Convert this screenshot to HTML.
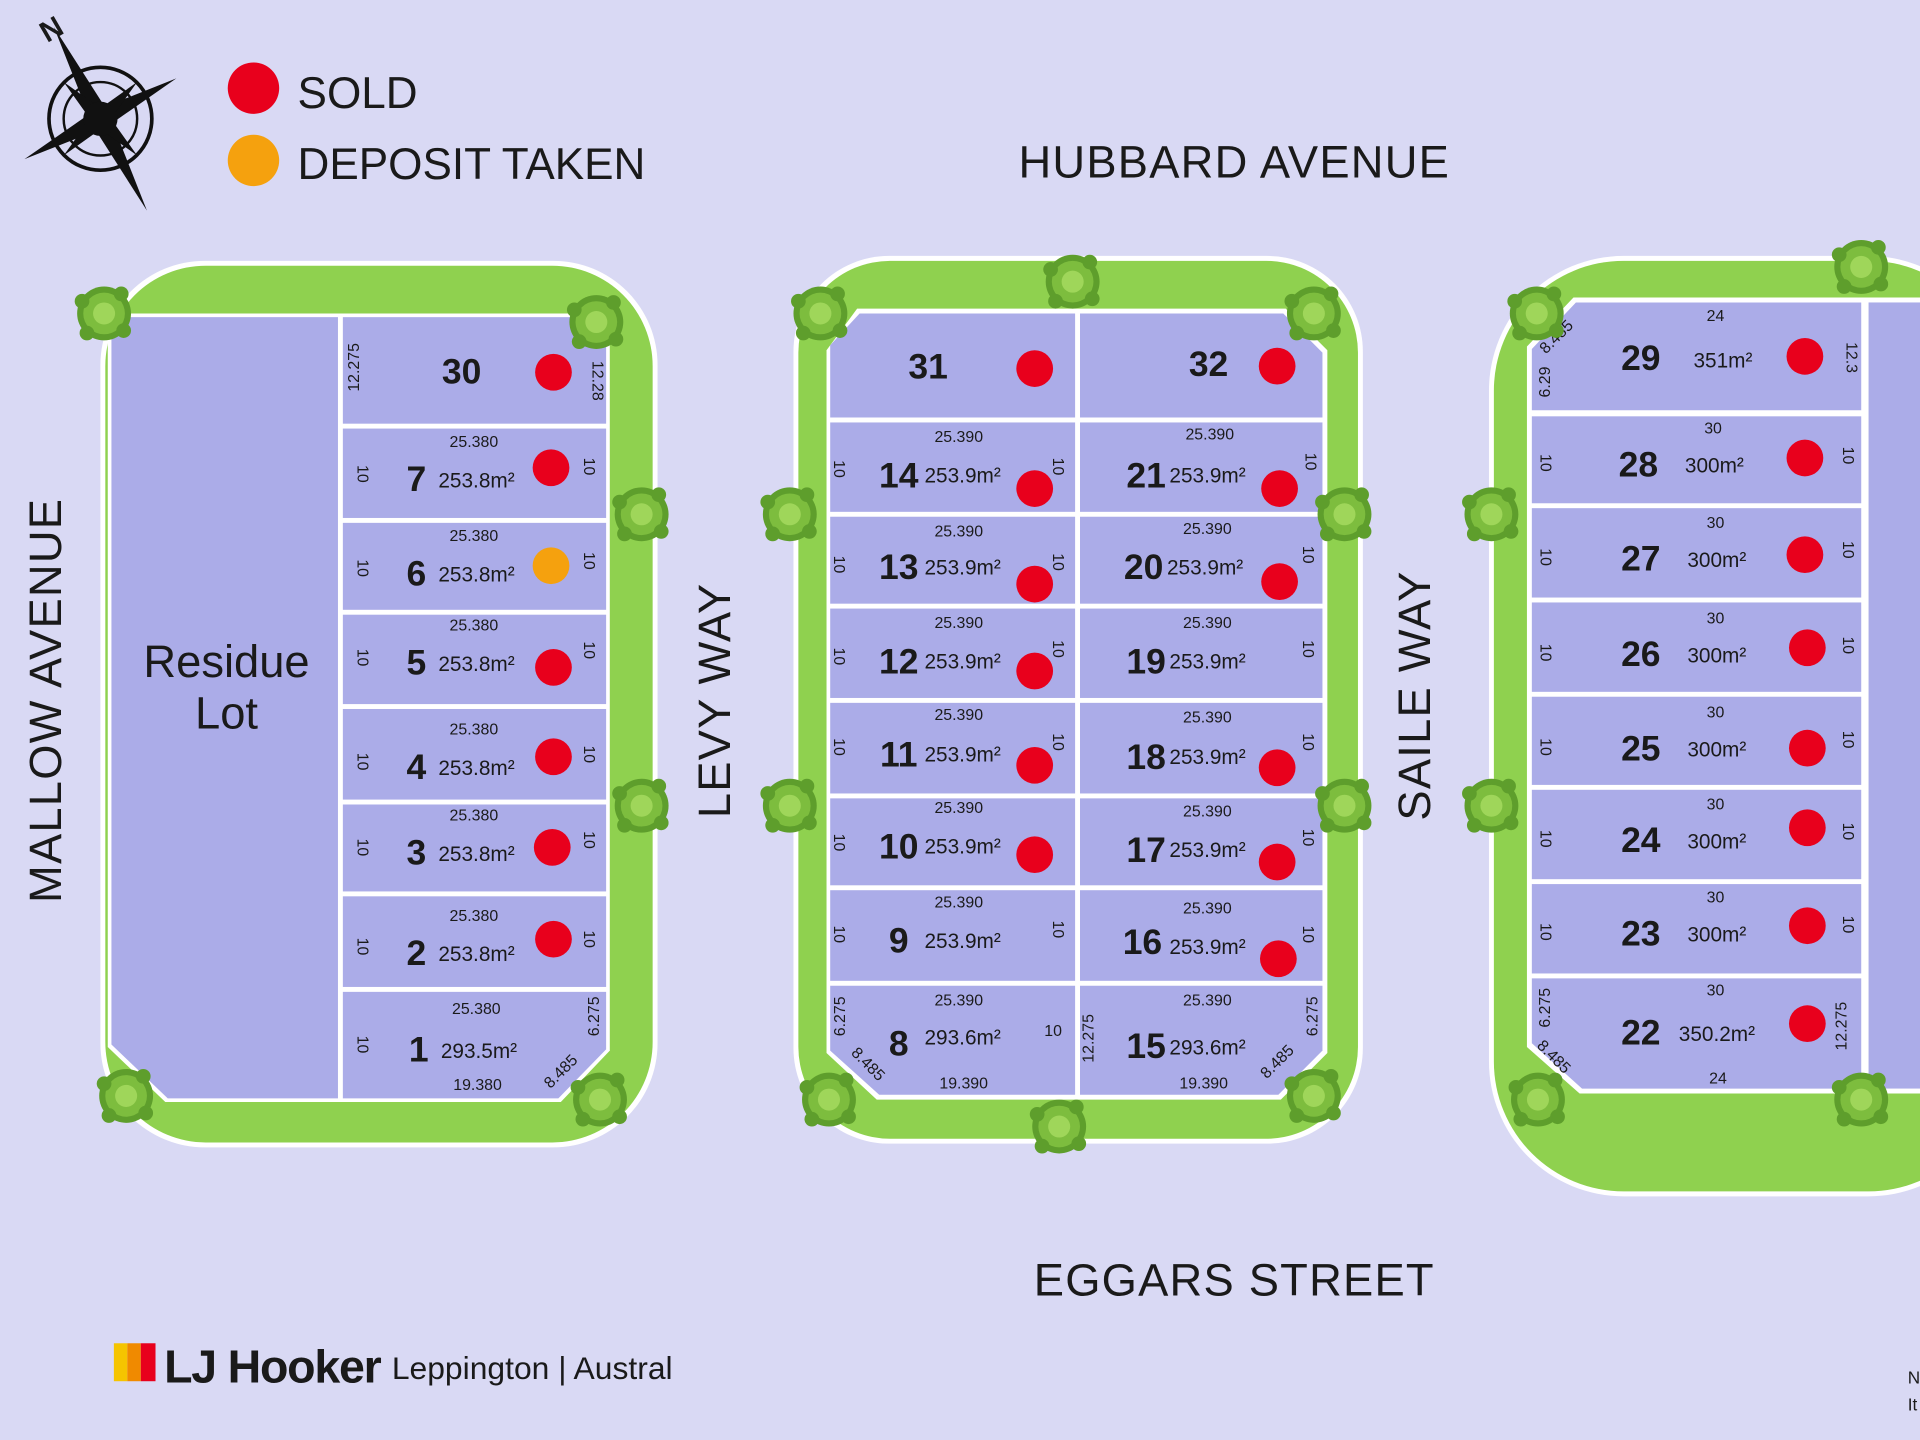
<!DOCTYPE html>
<html><head><meta charset="utf-8"><style>
html,body{margin:0;padding:0;background:#d9d9f4;}
svg{display:block}
text{font-family:"Liberation Sans",sans-serif;fill:#1a1a1a}
.d{font-size:13px;text-anchor:middle}
.n{font-size:29px;font-weight:bold;text-anchor:middle}
.a{font-size:17px}
.big{font-size:37px;text-anchor:middle;letter-spacing:1px}
</style></head><body>
<svg width="1920" height="1440" viewBox="0 0 1568 1176" xmlns="http://www.w3.org/2000/svg">
<defs>
<g id="tree"><circle r="22" fill="#5e9e2c"/><circle r="17" fill="#7dbd3e"/><circle r="9" fill="#9fd65a"/>
<circle cx="-18" cy="-10" r="6" fill="#5e9e2c"/><circle cx="16" cy="14" r="6" fill="#5e9e2c"/><circle cx="14" cy="-16" r="6" fill="#5e9e2c"/><circle cx="-14" cy="16" r="6" fill="#5e9e2c"/></g>
</defs>
<rect width="1568" height="1176" fill="#d9d9f4"/>

<!-- legend -->
<circle cx="207" cy="72" r="21" fill="#e8001c"/>
<text x="243" y="88" style="font-size:36px">SOLD</text>
<circle cx="207" cy="131" r="21" fill="#f5a10e"/>
<text x="243" y="146" style="font-size:36px">DEPOSIT TAKEN</text>
<!-- compass -->
<g transform="translate(82,97)">
<circle r="42" fill="none" stroke="#111" stroke-width="3"/>
<circle r="30" fill="none" stroke="#111" stroke-width="2"/>
<polygon points="-38,-75 6,-6 -6,6" fill="#111"/><polygon points="38,75 -6,6 6,-6" fill="#111"/>
<polygon points="-62,33 -6,-6 6,6" fill="#111"/><polygon points="62,-33 6,6 -6,-6" fill="#111"/>
<polygon points="-30,-30 5,-5 -5,5" fill="#111"/><polygon points="30,30 5,-5 -5,5" fill="#111"/>
<polygon points="30,-30 5,5 -5,-5" fill="#111"/><polygon points="-30,30 5,5 -5,-5" fill="#111"/>
<circle r="14" fill="#111"/>
</g>
<text x="42" y="32" transform="rotate(-30 42 24)" style="font-size:24px;font-weight:bold;text-anchor:middle">N</text>

<text x="1008" y="145" class="big">HUBBARD AVENUE</text>
<text x="1008" y="1058" class="big">EGGARS STREET</text>
<text transform="translate(50,572) rotate(-90)" class="big">MALLOW AVENUE</text>
<text transform="translate(596,572) rotate(-90)" class="big">LEVY WAY</text>
<text transform="translate(1168,568) rotate(-90)" class="big">SAILE WAY</text>

<!-- BLOCK 1 -->
<rect x="82" y="213" width="455" height="724" rx="85" fill="#fff"/>
<rect x="86" y="217" width="447" height="716" rx="82" fill="#8fd14f"/>
<polygon points="88,256 498,256 498,858 458,900 135,900 88,855" fill="#fff"/>
<polygon points="91,259 276,259 276,897 137,897 91,853" fill="#abace8"/>
<g fill="#abace8">
<rect x="280" y="259" width="215" height="87"/><rect x="280" y="350" width="215" height="73"/>
<rect x="280" y="427" width="215" height="71"/><rect x="280" y="502" width="215" height="73"/>
<rect x="280" y="579" width="215" height="74"/><rect x="280" y="657" width="215" height="71"/>
<rect x="280" y="732" width="215" height="74"/><polygon points="280,810 495,810 495,857 456,897 280,897"/>
</g>
<text x="185" y="553" style="font-size:37px;text-anchor:middle">Residue</text>
<text x="185" y="595" style="font-size:37px;text-anchor:middle">Lot</text>
<text x="377" y="313" class="n">30</text><circle cx="452" cy="304" r="15" fill="#e8001c"/>
<text transform="translate(293,300) rotate(-90)" class="d">12.275</text>
<text transform="translate(484,311) rotate(90)" class="d">12.28</text>
<g>
<text x="387" y="365" class="d">25.380</text><text x="340" y="401" class="n">7</text><text x="358" y="398" class="a">253.8m²</text><circle cx="450" cy="382" r="15" fill="#e8001c"/>
<text x="387" y="442" class="d">25.380</text><text x="340" y="478" class="n">6</text><text x="358" y="475" class="a">253.8m²</text><circle cx="450" cy="462" r="15" fill="#f5a10e"/>
<text x="387" y="515" class="d">25.380</text><text x="340" y="551" class="n">5</text><text x="358" y="548" class="a">253.8m²</text><circle cx="452" cy="545" r="15" fill="#e8001c"/>
<text x="387" y="600" class="d">25.380</text><text x="340" y="636" class="n">4</text><text x="358" y="633" class="a">253.8m²</text><circle cx="452" cy="618" r="15" fill="#e8001c"/>
<text x="387" y="670" class="d">25.380</text><text x="340" y="706" class="n">3</text><text x="358" y="703" class="a">253.8m²</text><circle cx="451" cy="692" r="15" fill="#e8001c"/>
<text x="387" y="752" class="d">25.380</text><text x="340" y="788" class="n">2</text><text x="358" y="785" class="a">253.8m²</text><circle cx="452" cy="767" r="15" fill="#e8001c"/>
<text x="389" y="828" class="d">25.380</text><text x="342" y="867" class="n">1</text><text x="360" y="864" class="a">293.5m²</text>
<text x="390" y="890" class="d">19.380</text>
<text transform="translate(461,878) rotate(-45)" class="d">8.485</text>
<text transform="translate(489,830) rotate(-90)" class="d">6.275</text>
</g>
<g class="d">
<text transform="translate(292,387) rotate(90)" class="d">10</text><text transform="translate(477,381) rotate(90)" class="d">10</text>
<text transform="translate(292,464) rotate(90)" class="d">10</text><text transform="translate(477,458) rotate(90)" class="d">10</text>
<text transform="translate(292,537) rotate(90)" class="d">10</text><text transform="translate(477,531) rotate(90)" class="d">10</text>
<text transform="translate(292,622) rotate(90)" class="d">10</text><text transform="translate(477,616) rotate(90)" class="d">10</text>
<text transform="translate(292,692) rotate(90)" class="d">10</text><text transform="translate(477,686) rotate(90)" class="d">10</text>
<text transform="translate(292,773) rotate(90)" class="d">10</text><text transform="translate(477,767) rotate(90)" class="d">10</text>
<text transform="translate(292,853) rotate(90)" class="d">10</text>
</g>

<!-- BLOCK 2 -->
<rect x="648" y="209" width="465" height="725" rx="78" fill="#fff"/>
<rect x="652" y="213" width="457" height="717" rx="75" fill="#8fd14f"/>
<polygon points="700,252 1050,252 1084,286 1084,860 1046,898 716,898 675,860 675,286" fill="#fff"/>
<g fill="#abace8">
<polygon points="702,256 878,256 878,341 678,341 678,282"/><polygon points="882,256 1048,256 1080,288 1080,341 882,341"/>
<rect x="678" y="345" width="200" height="73"/><rect x="882" y="345" width="198" height="73"/>
<rect x="678" y="422" width="200" height="71"/><rect x="882" y="422" width="198" height="71"/>
<rect x="678" y="497" width="200" height="73"/><rect x="882" y="497" width="198" height="73"/>
<rect x="678" y="574" width="200" height="74"/><rect x="882" y="574" width="198" height="74"/>
<rect x="678" y="652" width="200" height="71"/><rect x="882" y="652" width="198" height="71"/>
<rect x="678" y="727" width="200" height="74"/><rect x="882" y="727" width="198" height="74"/>
<polygon points="678,805 878,805 878,894 718,894 678,858"/><polygon points="882,805 1080,805 1080,858 1044,894 882,894"/>
</g>
<text x="758" y="309" class="n">31</text><circle cx="845" cy="301" r="15" fill="#e8001c"/>
<text x="987" y="307" class="n">32</text><circle cx="1043" cy="299" r="15" fill="#e8001c"/>
<g>
<text x="783" y="361" class="d">25.390</text><text x="734" y="398" class="n">14</text><text x="755" y="394" class="a">253.9m²</text><circle cx="845" cy="399" r="15" fill="#e8001c"/>
<text x="988" y="359" class="d">25.390</text><text x="936" y="398" class="n">21</text><text x="955" y="394" class="a">253.9m²</text><circle cx="1045" cy="399" r="15" fill="#e8001c"/>
<text x="783" y="438" class="d">25.390</text><text x="734" y="473" class="n">13</text><text x="755" y="469" class="a">253.9m²</text><circle cx="845" cy="477" r="15" fill="#e8001c"/>
<text x="986" y="436" class="d">25.390</text><text x="934" y="473" class="n">20</text><text x="953" y="469" class="a">253.9m²</text><circle cx="1045" cy="475" r="15" fill="#e8001c"/>
<text x="783" y="513" class="d">25.390</text><text x="734" y="550" class="n">12</text><text x="755" y="546" class="a">253.9m²</text><circle cx="845" cy="548" r="15" fill="#e8001c"/>
<text x="986" y="513" class="d">25.390</text><text x="936" y="550" class="n">19</text><text x="955" y="546" class="a">253.9m²</text>
<text x="783" y="588" class="d">25.390</text><text x="734" y="626" class="n">11</text><text x="755" y="622" class="a">253.9m²</text><circle cx="845" cy="625" r="15" fill="#e8001c"/>
<text x="986" y="590" class="d">25.390</text><text x="936" y="628" class="n">18</text><text x="955" y="624" class="a">253.9m²</text><circle cx="1043" cy="627" r="15" fill="#e8001c"/>
<text x="783" y="664" class="d">25.390</text><text x="734" y="701" class="n">10</text><text x="755" y="697" class="a">253.9m²</text><circle cx="845" cy="698" r="15" fill="#e8001c"/>
<text x="986" y="667" class="d">25.390</text><text x="936" y="704" class="n">17</text><text x="955" y="700" class="a">253.9m²</text><circle cx="1043" cy="704" r="15" fill="#e8001c"/>
<text x="783" y="741" class="d">25.390</text><text x="734" y="778" class="n">9</text><text x="755" y="774" class="a">253.9m²</text>
<text x="986" y="746" class="d">25.390</text><text x="933" y="779" class="n">16</text><text x="955" y="779" class="a">253.9m²</text><circle cx="1044" cy="783" r="15" fill="#e8001c"/>
<text x="783" y="821" class="d">25.390</text><text x="734" y="862" class="n">8</text><text x="755" y="853" class="a">293.6m²</text>
<text x="986" y="821" class="d">25.390</text><text x="936" y="864" class="n">15</text><text x="955" y="861" class="a">293.6m²</text>
<text x="787" y="889" class="d">19.390</text><text x="983" y="889" class="d">19.390</text>
<text transform="translate(706,872) rotate(45)" class="d">8.485</text>
<text transform="translate(1046,870) rotate(-45)" class="d">8.485</text>
<text transform="translate(690,830) rotate(-90)" class="d">6.275</text>
<text transform="translate(1076,830) rotate(-90)" class="d">6.275</text>
<text transform="translate(893,848) rotate(-90)" class="d">12.275</text>
<text transform="translate(860,846) rotate(0)" class="d">10</text>
</g>
<g>
<text transform="translate(681,383) rotate(90)" class="d">10</text><text transform="translate(860,381) rotate(90)" class="d">10</text><text transform="translate(1066,377) rotate(90)" class="d">10</text>
<text transform="translate(681,461) rotate(90)" class="d">10</text><text transform="translate(860,459) rotate(90)" class="d">10</text><text transform="translate(1064,453) rotate(90)" class="d">10</text>
<text transform="translate(681,536) rotate(90)" class="d">10</text><text transform="translate(860,530) rotate(90)" class="d">10</text><text transform="translate(1064,530) rotate(90)" class="d">10</text>
<text transform="translate(681,610) rotate(90)" class="d">10</text><text transform="translate(860,606) rotate(90)" class="d">10</text><text transform="translate(1064,606) rotate(90)" class="d">10</text>
<text transform="translate(681,688) rotate(90)" class="d">10</text><text transform="translate(1064,684) rotate(90)" class="d">10</text>
<text transform="translate(681,763) rotate(90)" class="d">10</text><text transform="translate(860,759) rotate(90)" class="d">10</text><text transform="translate(1064,763) rotate(90)" class="d">10</text>
</g>

<!-- BLOCK 3 -->
<rect x="1216" y="209" width="420" height="768" rx="110" fill="#fff"/>
<rect x="1220" y="213" width="412" height="760" rx="106" fill="#8fd14f"/>
<polygon points="1285,243 1568,243 1568,893 1290,893 1247,855 1247,283" fill="#fff"/>
<g fill="#abace8">
<polygon points="1287,247 1520,247 1520,335 1251,335 1251,285"/>
<rect x="1251" y="340" width="269" height="71"/><rect x="1251" y="415" width="269" height="73"/>
<rect x="1251" y="492" width="269" height="73"/><rect x="1251" y="569" width="269" height="72"/>
<rect x="1251" y="645" width="269" height="73"/><rect x="1251" y="722" width="269" height="73"/>
<polygon points="1251,799 1520,799 1520,889 1292,889 1251,852"/>
<rect x="1526" y="247" width="42" height="642"/>
</g>
<g>
<text x="1401" y="262" class="d">24</text><text x="1340" y="302" class="n">29</text><text x="1383" y="300" class="a">351m²</text><circle cx="1474" cy="291" r="15" fill="#e8001c"/>
<text x="1399" y="354" class="d">30</text><text x="1338" y="389" class="n">28</text><text x="1376" y="386" class="a">300m²</text><circle cx="1474" cy="374" r="15" fill="#e8001c"/>
<text x="1401" y="431" class="d">30</text><text x="1340" y="466" class="n">27</text><text x="1378" y="463" class="a">300m²</text><circle cx="1474" cy="453" r="15" fill="#e8001c"/>
<text x="1401" y="509" class="d">30</text><text x="1340" y="544" class="n">26</text><text x="1378" y="541" class="a">300m²</text><circle cx="1476" cy="529" r="15" fill="#e8001c"/>
<text x="1401" y="586" class="d">30</text><text x="1340" y="621" class="n">25</text><text x="1378" y="618" class="a">300m²</text><circle cx="1476" cy="611" r="15" fill="#e8001c"/>
<text x="1401" y="661" class="d">30</text><text x="1340" y="696" class="n">24</text><text x="1378" y="693" class="a">300m²</text><circle cx="1476" cy="676" r="15" fill="#e8001c"/>
<text x="1401" y="737" class="d">30</text><text x="1340" y="772" class="n">23</text><text x="1378" y="769" class="a">300m²</text><circle cx="1476" cy="756" r="15" fill="#e8001c"/>
<text x="1401" y="813" class="d">30</text><text x="1340" y="853" class="n">22</text><text x="1371" y="850" class="a">350.2m²</text><circle cx="1476" cy="836" r="15" fill="#e8001c"/>
<text x="1403" y="885" class="d">24</text>
<text transform="translate(1274,278) rotate(-45)" class="d">8.485</text>
<text transform="translate(1266,866) rotate(45)" class="d">8.485</text>
<text transform="translate(1266,312) rotate(-90)" class="d">6.29</text>
<text transform="translate(1266,823) rotate(-90)" class="d">6.275</text>
<text transform="translate(1508,292) rotate(90)" class="d">12.3</text>
<text transform="translate(1508,838) rotate(-90)" class="d">12.275</text>
<text transform="translate(1258,378) rotate(90)" class="d">10</text><text transform="translate(1505,372) rotate(90)" class="d">10</text>
<text transform="translate(1258,455) rotate(90)" class="d">10</text><text transform="translate(1505,449) rotate(90)" class="d">10</text>
<text transform="translate(1258,533) rotate(90)" class="d">10</text><text transform="translate(1505,527) rotate(90)" class="d">10</text>
<text transform="translate(1258,610) rotate(90)" class="d">10</text><text transform="translate(1505,604) rotate(90)" class="d">10</text>
<text transform="translate(1258,685) rotate(90)" class="d">10</text><text transform="translate(1505,679) rotate(90)" class="d">10</text>
<text transform="translate(1258,761) rotate(90)" class="d">10</text><text transform="translate(1505,755) rotate(90)" class="d">10</text>
</g>

<!-- trees -->
<use href="#tree" x="85" y="256"/><use href="#tree" x="487" y="263"/><use href="#tree" x="524" y="420"/><use href="#tree" x="524" y="658"/>
<use href="#tree" x="103" y="895"/><use href="#tree" x="490" y="898"/>
<use href="#tree" x="670" y="256"/><use href="#tree" x="876" y="230"/><use href="#tree" x="1073" y="256"/>
<use href="#tree" x="645" y="420"/><use href="#tree" x="1098" y="420"/><use href="#tree" x="645" y="658"/><use href="#tree" x="1098" y="658"/>
<use href="#tree" x="677" y="898"/><use href="#tree" x="865" y="920"/><use href="#tree" x="1073" y="895"/>
<use href="#tree" x="1255" y="256"/><use href="#tree" x="1520" y="218"/><use href="#tree" x="1218" y="420"/><use href="#tree" x="1218" y="658"/>
<use href="#tree" x="1256" y="898"/><use href="#tree" x="1520" y="898"/>

<!-- logo -->
<rect x="93" y="1097" width="11" height="31" fill="#f5c400"/>
<rect x="104" y="1097" width="11" height="31" fill="#f08a00"/>
<rect x="115" y="1097" width="12" height="31" fill="#e8001c"/>
<text x="134" y="1129" style="font-size:38px;font-weight:bold;letter-spacing:-1px">LJ Hooker</text>
<text x="320" y="1126" style="font-size:26px">Leppington | Austral</text>
<text x="1558" y="1130" style="font-size:14px">N</text>
<text x="1558" y="1152" style="font-size:14px">It</text>
</svg>
</body></html>
